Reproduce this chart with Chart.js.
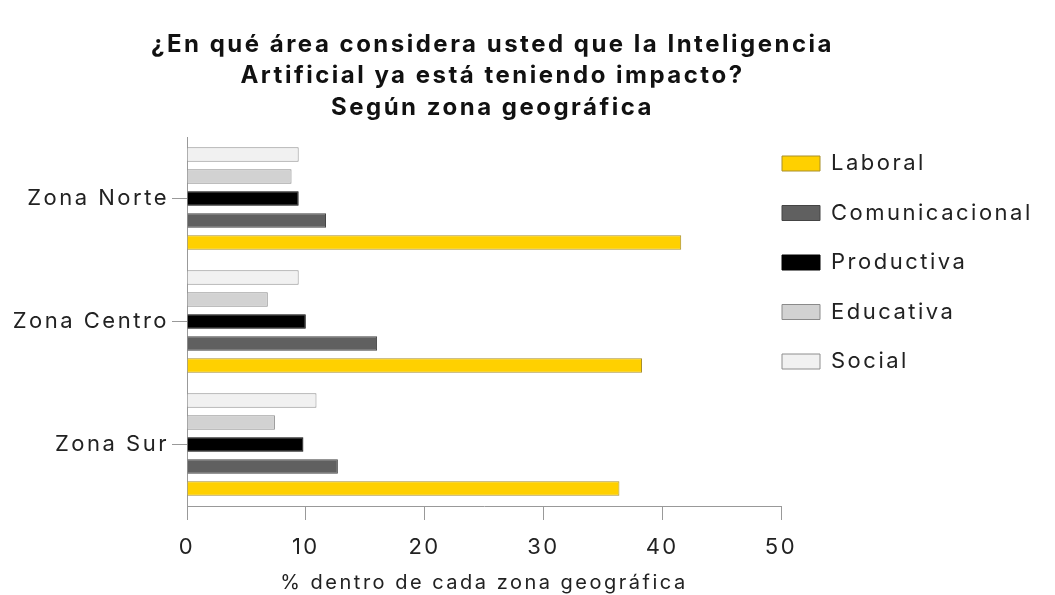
<!DOCTYPE html>
<html>
<head>
<meta charset="utf-8">
<script src="https://cdn.jsdelivr.net/npm/chart.js@4/dist/chart.umd.min.js"></script>
<style>
  html, body { margin: 0; padding: 0; background: #fff; }
  #wrap { width: 1055px; height: 595px; }
</style>
</head>
<body>
<div id="wrap"><canvas id="barChart"></canvas></div>
<script>
    // datos (% dentro de cada zona)
    var zonas = ['Zona Norte', 'Zona Centro', 'Zona Sur'];
    var social = [9.4, 9.4, 10.9];
    var educativa = [8.8, 6.8, 7.4];
    var productiva = [9.4, 10.0, 9.8];
    var comunicacional = [11.7, 16.0, 12.7];
    var laboral = [41.6, 38.3, 36.4];
    var xTicks = [0, 10, 20, 30, 40, 50];

    var fuente = "Inter, 'Open Sans', sans-serif";
    var legendPad = 27.5;

    // letra mas ancha (parecida a Montserrat) y ajuste de leyenda / titulo
    var ajustes = {
        id: 'ajustes',
        beforeUpdate: function (chart) { chart.ctx.letterSpacing = '2.5px'; },
        beforeDraw: function (chart) { chart.ctx.letterSpacing = '2.5px'; },
        afterLayout: function (chart) {
            chart.legend.left -= (legendPad - 1);
            chart.legend.top -= 12;
            chart.titleBlock.left -= 35;
            chart.titleBlock.right -= 35;
        }
    };

    var barData = {
        labels: zonas,
        datasets: [
            { label: 'Social', data: social, backgroundColor: '#f1f1f1', borderColor: '#8e8e8e' },
            { label: 'Educativa', data: educativa, backgroundColor: '#d2d2d2', borderColor: '#8a8a8a' },
            { label: 'Productiva', data: productiva, backgroundColor: '#000000', borderColor: '#000000' },
            { label: 'Comunicacional', data: comunicacional, backgroundColor: '#606060', borderColor: '#444444' },
            { label: 'Laboral', data: laboral, backgroundColor: '#ffd000', borderColor: '#a88f2a' }
        ]
    };
    barData.datasets.forEach(function (d) {
        d.borderWidth = 1;
        d.categoryPercentage = 0.895;
        d.barPercentage = 0.66;
    });

    var barOptions = {
        indexAxis: 'y',
        responsive: true,
        maintainAspectRatio: false,
        animation: false,
        layout: { padding: { left: 0, right: 0, top: 0, bottom: 0 } },
        plugins: {
            title: {
                display: true,
                text: ['¿En qué área considera usted que la Inteligencia',
                       'Artificial ya está teniendo impacto?',
                       'Según zona geográfica'],
                color: '#111',
                font: { family: fuente, size: 24, weight: 'bold', lineHeight: 1.3 },
                padding: { top: 29.4, bottom: 14 }
            },
            legend: {
                position: 'right',
                align: 'start',
                fullSize: false,
                reverse: true,
                maxWidth: 274,
                labels: {
                    boxWidth: 38,
                    boxHeight: 15,
                    padding: legendPad,
                    color: '#222',
                    font: { family: fuente, size: 22 }
                }
            },
            tooltip: { enabled: false }
        },
        scales: {
            x: {
                min: 0,
                max: 50,
                afterBuildTicks: function (scale) {
                    scale.ticks = xTicks.map(function (v) { return { value: v }; });
                },
                grid: { drawOnChartArea: false, drawTicks: true, tickLength: 14, color: '#999' },
                border: { display: true, color: '#999' },
                ticks: { color: '#222', padding: 16, font: { family: fuente, size: 22, lineHeight: 1 } },
                title: {
                    display: true,
                    text: '% dentro de cada zona geográfica',
                    color: '#222',
                    font: { family: fuente, size: 20, lineHeight: 0.9 },
                    padding: { top: 0, bottom: 3 }
                }
            },
            y: {
                afterFit: function (scale) { scale.width = 187; },
                grid: { offset: false, drawOnChartArea: false, drawTicks: true, tickLength: 15, color: '#999' },
                border: { display: true, color: '#999' },
                ticks: { color: '#222', padding: 3, font: { family: fuente, size: 22 } }
            }
        }
    };

    var ctx2 = document.getElementById('barChart').getContext('2d');
    new Chart(ctx2, { type: 'bar', data: barData, options: barOptions, plugins: [ajustes] });
</script>
</body>
</html>
